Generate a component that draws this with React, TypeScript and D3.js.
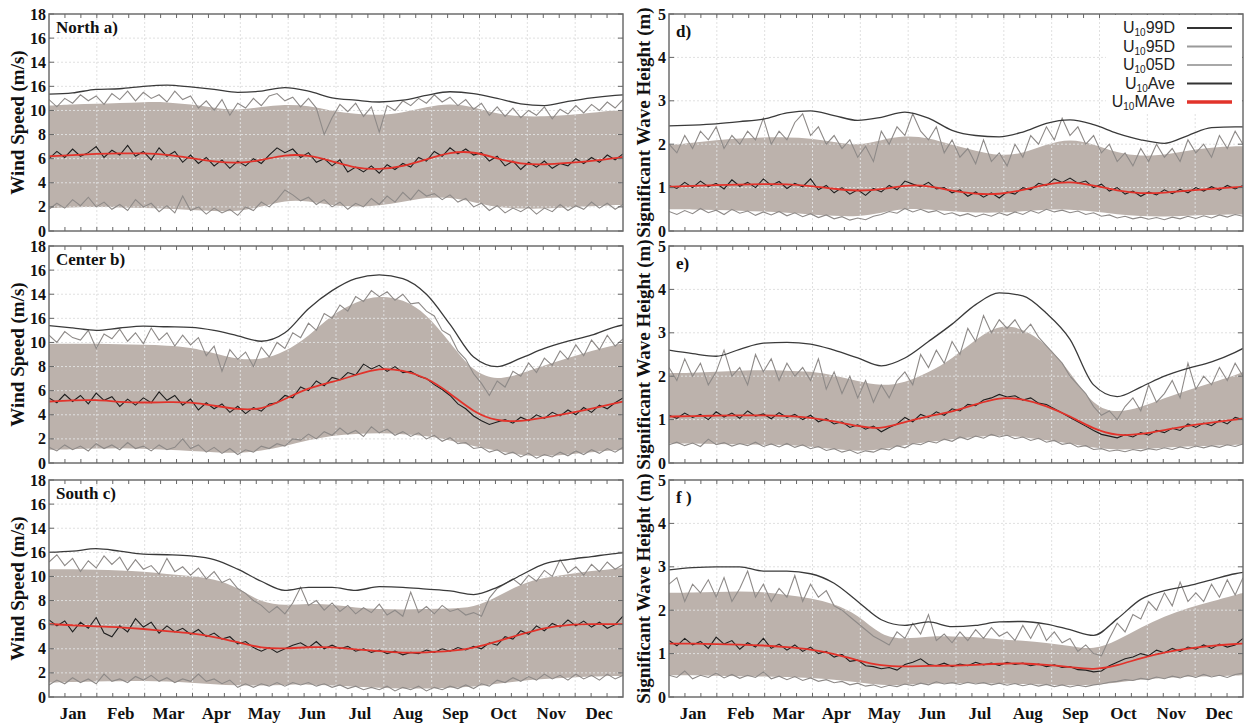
import React from 'react';
import * as d3 from 'd3';

const svgWidth = 1247;
const svgHeight = 723;

const months = ['Jan', 'Feb', 'Mar', 'Apr', 'May', 'Jun', 'Jul', 'Aug', 'Sep', 'Oct', 'Nov', 'Dec'];

// daily-ish series sampled every 5 days, smooth ones every 15 days
const noisyDays = d3.range(0, 366, 5);
const smoothDays = [...d3.range(0, 361, 15), 365];

const windTicks = [0, 2, 4, 6, 8, 10, 12, 14, 16, 18];
const windTickLabels = ['0', '2', '4', '6', '8', '10', '16', '14', '16', '18'];
const waveTicks = [0, 1, 2, 3, 4, 5];
const waveTickLabels = ['0', '1', '2', '3', '4', '5'];

// ---- North, wind (a)
const northWind99 = [11.35, 11.45, 11.75, 11.8, 12.0, 12.1, 11.95, 11.75, 11.5, 11.6, 11.9, 11.6, 11.05, 10.85, 10.7, 10.85, 11.25, 11.55, 11.4, 11.0, 10.55, 10.4, 10.75, 11.05, 11.25, 11.3];
const northWindHi = [10.4, 10.5, 10.55, 10.6, 10.7, 10.7, 10.5, 10.2, 10.0, 10.3, 10.5, 10.4, 9.95, 9.7, 9.6, 9.8, 10.3, 10.6, 10.3, 9.7, 9.5, 9.5, 9.6, 9.8, 10.0, 10.0];
const northWindLo = [1.9, 1.95, 2.0, 1.95, 1.9, 1.85, 1.75, 1.65, 1.6, 2.0, 2.55, 2.5, 2.1, 2.0, 2.1, 2.4, 2.8, 2.8, 2.4, 1.95, 1.85, 1.85, 1.95, 2.05, 2.15, 2.15];
const northWindMAve = [6.2, 6.3, 6.4, 6.45, 6.45, 6.35, 6.05, 5.75, 5.6, 5.85, 6.35, 6.3, 5.8, 5.2, 5.1, 5.35, 5.95, 6.55, 6.6, 6.0, 5.55, 5.5, 5.65, 5.8, 6.05, 6.15];
const northWind95 = [
  10.9, 10.3, 11.0, 10.6, 11.3, 10.8, 11.2, 10.5, 11.4, 10.9,
  11.6, 10.8, 11.5, 11.0, 11.3, 10.7, 11.6, 10.9, 11.2, 10.2,
  10.8, 10.0, 10.9, 9.6, 10.6, 10.2, 11.0, 10.4, 11.2, 11.4,
  10.8, 11.1, 10.3, 11.0, 10.2, 8.0, 9.4, 10.5, 9.9, 10.6,
  9.5, 10.3, 8.2, 10.4, 10.0, 10.8, 10.4, 11.0, 10.6, 11.3,
  10.7, 11.1, 10.4, 10.9, 10.1, 10.6, 9.6, 10.3, 9.5, 10.2,
  9.4, 10.0, 9.6, 10.3, 9.3, 10.1, 9.7, 10.4, 9.8, 10.5,
  10.0, 10.7, 10.2, 10.9,
];
const northWind05 = [
  1.8, 2.3, 1.9, 2.6, 2.1, 2.8, 2.0, 2.4, 1.8, 2.2,
  1.7, 2.6, 2.0, 2.3, 1.6, 2.1, 1.5, 2.9, 1.7, 2.0,
  1.4, 1.9, 1.5, 1.8, 1.3, 2.0, 1.7, 2.4, 2.0, 2.6,
  3.4, 3.0, 2.5, 2.8, 2.2, 2.6, 2.0, 2.4, 1.8, 2.3,
  2.0, 2.7, 2.2, 2.9, 2.4, 3.2, 2.6, 3.4, 2.9, 3.1,
  2.6, 3.0, 2.4, 2.7, 2.0, 2.3, 1.7, 2.1, 1.5, 1.9,
  1.6, 2.0, 1.4, 1.9, 1.6, 2.2, 1.7, 2.1, 1.8, 2.4,
  1.9, 2.3, 1.8, 2.2,
];
const northWindAve = [
  6.0, 6.6, 6.1, 6.8, 6.2, 6.5, 7.0, 6.1, 6.7, 6.3,
  7.1, 6.2, 6.6, 5.9, 6.9, 6.2, 6.6, 5.7, 6.3, 5.6,
  6.1, 5.4, 5.9, 5.2, 5.8, 5.4, 6.0, 5.6, 6.3, 6.9,
  6.5, 6.8, 6.1, 6.5, 5.7, 6.0, 5.4, 5.9, 4.9, 5.3,
  4.9, 5.4, 4.8, 5.5, 5.1, 5.6, 5.3, 6.1, 5.8, 6.6,
  6.2, 6.9, 6.4, 6.8, 6.3, 6.5, 5.8, 6.2, 5.4, 5.8,
  5.1, 5.7, 5.3, 5.8, 5.2, 5.6, 5.4, 6.0, 5.6, 6.1,
  5.7, 6.3, 5.9, 6.4,
];

// ---- Center, wind (b)
const centerWind99 = [11.4, 11.2, 11.0, 11.2, 11.35, 11.3, 11.25, 11.0, 10.55, 10.1, 10.8, 12.8, 14.3, 15.3, 15.6, 15.3, 14.0, 11.5, 8.8, 8.0, 8.7, 9.5, 10.1, 10.6, 11.3, 11.45];
const centerWindHi = [9.9, 9.9, 9.9, 9.85, 9.8, 9.75, 9.6, 9.1, 8.6, 8.55, 9.2, 10.5, 12.3, 13.4, 13.9, 13.6, 12.4, 10.0, 7.5, 6.85, 7.4, 8.1, 8.7, 9.3, 9.8, 9.9];
const centerWindLo = [1.1, 1.15, 1.2, 1.25, 1.2, 1.1, 1.0, 0.9, 0.8, 1.0, 1.4, 1.9, 2.3, 2.4, 2.5, 2.4, 2.25, 1.9, 1.4, 1.0, 0.65, 0.55, 0.7, 0.9, 1.05, 1.1];
const centerWindMAve = [5.1, 5.2, 5.25, 5.05, 5.0, 5.05, 5.05, 4.75, 4.45, 4.4, 5.3, 6.25, 6.7, 7.3, 7.9, 7.7, 7.1, 5.8, 4.2, 3.45, 3.45, 3.75, 4.1, 4.5, 4.95, 5.1];
const centerWind95 = [
  10.6, 10.0, 10.9, 10.4, 10.2, 11.0, 9.5, 10.7, 10.3, 11.1,
  10.1, 10.8, 9.9, 11.2, 10.2, 10.8, 9.7, 10.6, 9.8, 10.4,
  8.9, 9.7, 7.6, 9.4, 8.6, 9.2, 8.0, 9.6, 8.8, 10.0,
  9.5, 10.8, 10.4, 11.6, 11.0, 12.4, 12.0, 13.1, 12.6, 13.8,
  13.4, 14.3, 13.8, 14.2, 13.5, 14.0, 13.2, 13.3, 12.6, 12.2,
  11.0, 10.6, 9.3, 8.6, 7.4, 6.6, 5.6, 6.8, 6.3, 7.6,
  7.2, 8.3, 7.5, 8.7, 8.1, 9.3, 8.6, 9.8, 8.9, 10.2,
  9.4, 10.6, 9.7, 10.3,
];
const centerWind05 = [
  1.3, 1.0, 1.5, 1.1, 1.4, 1.0, 1.6, 1.2, 1.5, 1.1,
  1.7, 1.2, 1.4, 1.0, 1.5, 1.1, 1.3, 2.0, 1.2, 1.5,
  0.9, 1.3, 0.8, 1.2, 0.7, 1.1, 0.9, 1.4, 1.2, 1.6,
  1.4, 2.0, 1.9, 2.4, 2.0, 2.6, 2.3, 2.9, 2.4, 2.7,
  2.2, 3.0, 2.5, 2.8, 2.3, 2.6, 2.2, 2.5, 2.0, 2.3,
  1.8, 2.1, 1.6, 1.7, 1.2, 1.3, 0.9, 1.1, 0.7, 0.9,
  0.5, 0.8, 0.4, 0.7, 0.5, 0.9, 0.6, 1.0, 0.7, 1.1,
  0.8, 1.2, 0.9, 1.3,
];
const centerWindAve = [
  5.4, 5.0, 5.7, 5.1, 5.6, 4.9, 5.8, 5.2, 5.5, 4.7,
  5.3, 4.8, 5.4, 5.0, 5.9, 5.2, 5.6, 4.8, 5.3, 4.4,
  5.0, 4.5, 4.9, 4.2, 4.7, 4.1, 4.6, 4.3, 4.9, 5.0,
  5.6, 5.4, 6.3, 6.0, 6.8, 6.4, 7.1, 6.9, 7.5, 7.3,
  8.2, 7.8, 8.1, 7.6, 8.0, 7.5, 7.6, 7.2, 7.0, 6.5,
  6.1, 5.6, 4.9, 4.5, 3.9, 3.5, 3.2, 3.4, 3.6, 3.3,
  3.8, 3.5, 4.0, 3.7, 4.2, 3.9, 4.4, 4.0, 4.6, 4.2,
  4.8, 4.5, 5.0, 5.4,
];

// ---- South, wind (c)
const southWind99 = [12.0, 12.1, 12.3, 12.1, 11.85, 11.8, 11.7, 11.4, 10.6, 9.6, 8.85, 9.1, 9.1, 8.85, 9.15, 9.1, 8.95, 8.8, 8.5, 9.1, 10.1, 11.05, 11.4, 11.65, 11.9, 11.95];
const southWindHi = [10.6, 10.6, 10.55, 10.5, 10.4, 10.2, 10.05, 9.8, 9.1, 7.8, 7.6, 7.75, 7.7, 7.4, 7.3, 7.25, 7.3, 7.35, 7.4, 8.3, 9.4, 9.9, 10.2, 10.45, 10.65, 10.7];
const southWindLo = [1.2, 1.25, 1.3, 1.3, 1.35, 1.3, 1.2, 1.05, 0.95, 0.95, 1.0, 1.05, 0.95, 0.85, 0.75, 0.7, 0.7, 0.75, 0.85, 1.1, 1.35, 1.5, 1.6, 1.7, 1.75, 1.75];
const southWindMAve = [6.05, 5.95, 5.85, 5.8, 5.65, 5.45, 5.3, 5.0, 4.55, 4.05, 4.0, 4.15, 4.15, 3.95, 3.8, 3.65, 3.7, 3.8, 4.05, 4.6, 5.2, 5.75, 6.0, 6.05, 6.05, 6.05];
const southWind95 = [
  11.2, 11.8, 10.9, 11.5, 10.4, 11.3, 10.7, 11.7, 11.0, 11.6,
  10.5, 11.4, 10.6, 10.9, 10.2, 11.5, 10.4, 10.8, 10.1, 10.7,
  9.8, 10.4, 9.5, 9.8, 9.0, 8.6, 8.0, 7.6, 7.0, 7.5,
  6.9, 7.8, 9.1, 7.6, 8.0, 7.2, 7.8, 7.1, 7.6, 6.9,
  7.4, 7.0, 7.7, 6.8, 7.2, 6.7, 8.7, 7.0, 7.5, 6.9,
  7.6, 7.1, 7.3, 6.8, 7.0, 6.7, 8.2, 9.0, 9.4, 9.8,
  9.3, 10.1, 9.6, 10.5, 10.0, 11.4, 10.3, 10.8, 10.1, 11.0,
  10.4, 11.2, 10.6, 11.0,
];
const southWind05 = [
  1.0, 1.4, 1.1, 1.6, 1.2, 1.5, 1.1, 1.9, 1.3, 1.5,
  1.2, 1.7, 1.4, 1.8, 1.3, 1.6, 1.2, 1.5, 1.3, 1.9,
  1.3, 1.5, 1.1, 1.4, 0.8, 1.1, 0.8, 1.1, 0.9, 1.2,
  0.9, 1.2, 1.0, 1.2, 0.9, 1.1, 0.8, 1.0, 0.7, 0.9,
  0.6, 0.8, 0.6, 0.9, 0.5, 0.8, 0.6, 0.9, 0.5, 0.8,
  0.6, 0.9, 0.7, 1.0, 0.7, 1.1, 0.9, 1.4, 1.2, 1.6,
  1.3, 1.7, 1.4, 1.9, 1.5, 1.8, 1.4, 1.9, 1.5, 1.8,
  1.4, 1.9, 1.5, 1.8,
];
const southWindAve = [
  6.4, 5.9, 6.3, 5.4, 6.2, 5.7, 6.6, 5.3, 5.0, 5.9,
  5.4, 6.5, 5.8, 6.2, 5.3, 5.9, 5.4, 5.7, 5.2, 5.6,
  5.0, 5.3, 4.8, 5.0, 4.4, 4.6, 4.1, 3.8, 4.1, 3.7,
  4.0, 4.3, 4.5, 4.1, 4.6, 4.0, 4.3, 4.0, 4.2, 3.8,
  4.0, 3.7, 3.9, 3.6, 3.8, 3.5, 3.7, 3.6, 3.9, 3.7,
  4.0, 3.8, 4.1, 3.9, 4.2, 4.0, 4.5, 4.3, 5.0, 4.8,
  5.5, 5.2, 5.9, 5.5, 6.1, 5.8, 6.4, 5.9, 6.3, 5.8,
  6.2, 5.7, 6.0, 6.7,
];

// ---- North, waves (d)
const northWave99 = [2.42, 2.44, 2.47, 2.52, 2.58, 2.72, 2.77, 2.66, 2.55, 2.62, 2.74, 2.6, 2.32, 2.2, 2.17, 2.28, 2.48, 2.56, 2.45, 2.25, 2.1, 2.02, 2.2, 2.38, 2.4, 2.4];
const northWaveHi = [1.98, 2.03, 2.1, 2.13, 2.16, 2.16, 2.14, 2.05, 1.96, 2.1, 2.2, 2.15, 1.98, 1.85, 1.73, 1.78, 2.0, 2.13, 2.0, 1.8, 1.72, 1.75, 1.85, 1.93, 1.95, 1.95];
const northWaveLo = [0.5, 0.5, 0.48, 0.47, 0.45, 0.42, 0.38, 0.35, 0.33, 0.42, 0.52, 0.5, 0.45, 0.42, 0.42, 0.45, 0.5, 0.5, 0.45, 0.38, 0.34, 0.33, 0.35, 0.37, 0.38, 0.38];
const northWaveMAve = [1.02, 1.04, 1.06, 1.07, 1.08, 1.08, 1.04, 0.97, 0.92, 0.95, 1.06, 1.05, 0.92, 0.85, 0.84, 0.94, 1.08, 1.15, 1.05, 0.93, 0.86, 0.88, 0.93, 0.97, 1.01, 1.02];
const northWave95 = [
  2.0, 1.8, 2.2, 1.9, 2.3, 2.1, 2.4, 1.9, 2.2, 2.0,
  2.3, 2.1, 2.6, 2.0, 2.3, 2.1, 2.5, 2.7, 2.2, 2.4,
  2.0, 2.2, 1.9, 2.1, 1.7, 1.95, 1.6, 2.3, 2.0, 2.4,
  2.2, 2.7, 2.3, 2.1, 2.4, 1.8, 2.1, 1.7, 1.9, 1.55,
  2.1, 1.6, 1.8, 1.5, 2.0, 1.7, 2.2, 2.0, 2.4, 2.1,
  2.6, 2.2, 2.4, 2.0, 2.2, 1.8, 2.0, 1.6, 1.8, 1.5,
  1.9, 1.6, 2.0, 1.7, 1.9, 1.6, 2.1, 1.8, 2.0, 1.7,
  2.2, 1.9, 2.3, 2.0,
];
const northWave05 = [
  0.45, 0.38, 0.47, 0.40, 0.52, 0.42, 0.48, 0.38, 0.50, 0.41,
  0.46, 0.36, 0.44, 0.37, 0.45, 0.35, 0.42, 0.33, 0.40, 0.31,
  0.37, 0.28, 0.33, 0.25, 0.30, 0.26, 0.34, 0.38, 0.45, 0.41,
  0.52, 0.44, 0.50, 0.43, 0.47, 0.38, 0.42, 0.35, 0.40, 0.33,
  0.39, 0.34, 0.42, 0.36, 0.44, 0.38, 0.47, 0.41, 0.50, 0.44,
  0.48, 0.42, 0.46, 0.38, 0.42, 0.34, 0.37, 0.30, 0.34, 0.28,
  0.32, 0.27, 0.31, 0.26, 0.32, 0.28, 0.34, 0.29, 0.35, 0.30,
  0.37, 0.32, 0.38, 0.34,
];
const northWaveAve = [
  1.05, 0.98, 1.12, 1.0, 1.15, 1.02, 1.1, 0.97, 1.18, 1.03,
  1.12, 1.0, 1.2, 1.05, 1.14, 0.98, 1.1, 1.02, 1.2, 0.95,
  1.05, 0.88, 1.0, 0.85, 0.95, 0.82, 0.98, 0.9, 1.05, 0.95,
  1.15, 1.08, 1.02, 1.12, 0.97, 1.0, 0.88, 0.95, 0.8, 0.9,
  0.78, 0.88, 0.76, 0.9, 0.85, 1.0, 0.95, 1.1, 1.05, 1.2,
  1.12, 1.22, 1.1, 1.15, 1.0, 1.08, 0.92, 1.0, 0.85, 0.92,
  0.8, 0.9, 0.83, 0.95, 0.86, 0.96, 0.88, 1.0, 0.92, 1.02,
  0.94, 1.05, 0.97, 1.05,
];

// ---- Center, waves (e)
const centerWave99 = [2.6, 2.52, 2.46, 2.62, 2.76, 2.78, 2.74, 2.6, 2.42, 2.24, 2.42, 2.8, 3.2, 3.65, 3.92, 3.85, 3.45, 2.85, 1.8, 1.53, 1.75, 2.0, 2.18, 2.33, 2.55, 2.64];
const centerWaveHi = [2.07, 2.08, 2.1, 2.13, 2.14, 2.13, 2.11, 2.03, 1.88, 1.77, 1.85, 2.08, 2.4, 2.85, 3.2, 3.1, 2.75, 2.1, 1.3, 1.15, 1.28, 1.5, 1.68, 1.85, 2.02, 2.1];
const centerWaveLo = [0.45, 0.45, 0.44, 0.43, 0.42, 0.42, 0.38, 0.32, 0.27, 0.3, 0.42, 0.48, 0.55, 0.6, 0.64, 0.6, 0.52, 0.45, 0.35, 0.3, 0.32, 0.35, 0.38, 0.4, 0.42, 0.42];
const centerWaveMAve = [1.07, 1.08, 1.09, 1.1, 1.1, 1.08, 1.05, 0.96, 0.85, 0.77, 0.95, 1.08, 1.18, 1.35, 1.52, 1.48, 1.32, 1.08, 0.78, 0.62, 0.66, 0.76, 0.86, 0.93, 1.0, 1.03];
const centerWave95 = [
  2.2, 1.9, 2.4, 2.0, 2.3, 1.8, 2.1, 2.6, 2.0, 2.2,
  1.8, 2.5, 2.1, 2.4, 1.9, 2.3, 2.0, 2.2, 1.9, 2.4,
  1.7, 2.1, 1.6, 2.0, 1.5, 1.9, 1.4, 1.8, 1.5, 1.9,
  2.1, 1.8, 2.5, 2.2, 2.6, 2.3, 2.8, 2.5, 3.1, 2.8,
  3.4, 3.0, 3.3, 3.1, 3.3, 3.0, 3.2, 2.9, 2.7, 2.5,
  2.3, 2.0, 1.8, 1.6, 1.3, 1.1, 1.2, 1.0, 1.3, 1.5,
  1.2, 1.8, 1.4, 1.6, 1.9, 1.5, 2.3, 1.7, 2.0, 1.8,
  2.2, 1.9, 2.3, 2.0,
];
const centerWave05 = [
  0.42, 0.48, 0.40, 0.46, 0.38, 0.55, 0.42, 0.47, 0.39, 0.45,
  0.40, 0.48, 0.38, 0.44, 0.37, 0.45, 0.36, 0.42, 0.33, 0.38,
  0.29, 0.33, 0.25, 0.30, 0.22, 0.28, 0.25, 0.33, 0.30, 0.40,
  0.35, 0.45, 0.42, 0.50, 0.46, 0.55, 0.50, 0.60, 0.54, 0.62,
  0.57, 0.66, 0.60, 0.64, 0.56, 0.60, 0.52, 0.57, 0.48, 0.52,
  0.43, 0.46, 0.37, 0.40, 0.31, 0.33, 0.27, 0.30, 0.26, 0.31,
  0.28, 0.33, 0.30, 0.35, 0.31, 0.37, 0.33, 0.39, 0.35, 0.40,
  0.36, 0.42, 0.38, 0.44,
];
const centerWaveAve = [
  1.1, 1.03, 1.15, 1.05, 1.12, 1.0, 1.18, 1.06, 1.15, 1.03,
  1.2, 1.08, 1.13, 1.02, 1.16, 1.05, 1.12, 1.0, 1.1, 0.95,
  1.02, 0.9, 0.95, 0.82, 0.88, 0.78, 0.85, 0.72, 0.82, 0.9,
  1.05, 0.95, 1.12, 1.05, 1.18, 1.1, 1.25, 1.2, 1.35, 1.32,
  1.45, 1.5, 1.58, 1.52, 1.55, 1.45, 1.5, 1.38, 1.35, 1.25,
  1.15, 1.05, 0.95, 0.85, 0.75, 0.66, 0.62, 0.58, 0.65, 0.6,
  0.7, 0.64, 0.75, 0.7, 0.8, 0.75, 0.9, 0.82, 0.92, 0.86,
  0.98, 0.9, 1.05, 1.0,
];

// ---- South, waves (f)
const southWave99 = [2.93, 2.98, 3.0, 3.0, 2.9, 2.9, 2.84, 2.62, 2.2, 1.78, 1.65, 1.73, 1.62, 1.65, 1.73, 1.74, 1.68, 1.55, 1.42, 1.8, 2.25, 2.45, 2.56, 2.7, 2.84, 2.87];
const southWaveHi = [2.4, 2.41, 2.42, 2.44, 2.42, 2.35, 2.28, 2.15, 1.9, 1.4, 1.33, 1.4, 1.4, 1.38, 1.33, 1.3, 1.25, 1.18, 1.08, 1.3, 1.6, 1.86, 2.05, 2.2, 2.35, 2.4];
const southWaveLo = [0.5, 0.5, 0.49, 0.48, 0.47, 0.46, 0.44, 0.4, 0.34, 0.27, 0.28, 0.31, 0.32, 0.32, 0.31, 0.3, 0.28, 0.27, 0.27, 0.33, 0.4, 0.44, 0.47, 0.48, 0.49, 0.5];
const southWaveMAve = [1.23, 1.23, 1.22, 1.21, 1.19, 1.15, 1.1, 1.0, 0.84, 0.72, 0.7, 0.72, 0.72, 0.74, 0.77, 0.78, 0.74, 0.69, 0.62, 0.72, 0.9, 1.03, 1.12, 1.18, 1.22, 1.23];
const southWave95 = [
  2.6, 2.75, 2.2, 2.6, 2.4, 2.7, 2.3, 2.75, 2.2, 2.5,
  2.9, 2.3, 2.6, 2.2, 2.5, 2.3, 2.8, 2.2, 2.6, 2.3,
  2.45, 2.1, 2.0, 1.85, 1.7, 1.55, 1.4, 1.3, 1.2, 1.5,
  1.35, 1.7, 1.45, 1.9, 1.3, 1.45, 1.25, 1.5, 1.3, 1.55,
  1.35, 1.6, 1.4, 1.5, 1.3, 1.65, 1.35, 1.7, 1.3, 1.5,
  1.25, 1.35, 1.05, 1.2, 1.0, 0.95, 1.35, 1.7, 1.5, 1.9,
  1.8, 2.2, 2.0, 2.4, 2.1, 2.65, 2.2, 2.4, 2.2, 2.6,
  2.3, 2.7, 2.35, 2.75,
];
const southWave05 = [
  0.5, 0.45, 0.6, 0.42, 0.5, 0.45, 0.55, 0.44, 0.52, 0.43,
  0.5, 0.45, 0.58, 0.42, 0.48, 0.4, 0.47, 0.38, 0.44, 0.36,
  0.4, 0.33, 0.36, 0.28, 0.32, 0.25, 0.28, 0.22, 0.27, 0.24,
  0.3, 0.26, 0.32, 0.28, 0.35, 0.3, 0.33, 0.29, 0.34, 0.3,
  0.33, 0.28, 0.32, 0.27, 0.31, 0.26, 0.3, 0.25, 0.29, 0.24,
  0.28, 0.23, 0.27, 0.24, 0.28, 0.3, 0.34, 0.36, 0.4, 0.38,
  0.43, 0.4, 0.46, 0.42, 0.48, 0.44, 0.5, 0.45, 0.52, 0.46,
  0.5, 0.45, 0.52, 0.55,
];
const southWaveAve = [
  1.3, 1.18, 1.35, 1.2, 1.28, 1.12, 1.38, 1.22, 1.3, 1.1,
  1.25, 1.15, 1.35, 1.12, 1.22, 1.08, 1.2, 1.05, 1.15, 1.0,
  1.05, 0.92, 0.98, 0.82, 0.85, 0.72, 0.7, 0.65, 0.68, 0.62,
  0.75, 0.8, 0.88, 0.75, 0.72, 0.78, 0.7, 0.76, 0.72, 0.8,
  0.74, 0.78, 0.73, 0.8, 0.75, 0.78, 0.72, 0.76, 0.7, 0.74,
  0.68, 0.7, 0.63, 0.62, 0.58, 0.6, 0.72, 0.8, 0.88, 0.92,
  1.0, 0.95, 1.08, 1.02, 1.12, 1.05, 1.15, 1.1, 1.2, 1.12,
  1.22, 1.15, 1.2, 1.35,
];

const legendItems = [
  { name: '99D', color: '#333333', width: 2 },
  { name: '95D', color: '#9a9a9a', width: 2 },
  { name: '05D', color: '#a8a8a8', width: 2 },
  { name: 'Ave', color: '#333333', width: 2 },
  { name: 'MAve', color: '#e2332b', width: 3.5 },
];

const plotWidth = 574;
const plotHeight = 217;
const serif = '"Times New Roman", "Liberation Serif", serif';
const bandColor = '#bcb2ac';
const gridColor = '#e0e0e0';

function Panel({ id, left, top, yMax, ticks, tickLabels, s, title, titleDy, yTitle, yTitleX, showMonths, showLegend }) {
  const x = d3.scaleLinear().domain([0, 365]).range([left, left + plotWidth]);
  const y = d3.scaleLinear().domain([0, yMax]).range([top + plotHeight, top]);
  const monthScale = d3.scaleBand().domain(months).range([left, left + plotWidth]);
  const minor = d3.scaleLinear().domain([0, 36]).range([left, left + plotWidth]);

  const band = d3.area()
    .x((d, i) => x(smoothDays[i]))
    .y0((d, i) => y(s.lo[i]))
    .y1((d) => y(d))
    .curve(d3.curveBasis);
  const noisy = d3.line().x((d, i) => x(noisyDays[i])).y((d) => y(d));
  const smooth = d3.line().x((d, i) => x(smoothDays[i])).y((d) => y(d)).curve(d3.curveBasis);
  const upper = d3.line().x((d, i) => x(smoothDays[i])).y((d) => y(d)).curve(d3.curveMonotoneX);

  const bottom = top + plotHeight;
  const right = left + plotWidth;

  return (
    <g>
      <clipPath id={id}>
        <rect x={left} y={top} width={plotWidth} height={plotHeight} />
      </clipPath>
      <g clipPath={`url(#${id})`}>
        <path d={band(s.hi)} fill={bandColor} />
        {months.slice(1).map((m) => (
          <line key={m} x1={monthScale(m)} x2={monthScale(m)} y1={top} y2={bottom}
            stroke={gridColor} strokeDasharray="2,2" strokeWidth={1} />
        ))}
        {ticks.slice(1, -1).map((t) => (
          <line key={t} x1={left} x2={right} y1={y(t)} y2={y(t)}
            stroke={gridColor} strokeDasharray="2,2" strokeWidth={1} />
        ))}
        <path d={noisy(s.p05)} fill="none" stroke="#8e8a88" strokeWidth={1.1} />
        <path d={noisy(s.p95)} fill="none" stroke="#8e8a88" strokeWidth={1.1} />
        <path d={upper(s.p99)} fill="none" stroke="#3a3a3a" strokeWidth={1.3} />
        <path d={noisy(s.ave)} fill="none" stroke="#1e1e1e" strokeWidth={1.1} />
        <path d={smooth(s.mave)} fill="none" stroke="#e2332b" strokeWidth={1.8} />
      </g>

      <rect x={left} y={top} width={plotWidth} height={plotHeight} fill="none" stroke="#6e6e6e" strokeWidth={1.5} />

      {d3.range(1, 36).map((k) => (
        <g key={k}>
          <line x1={minor(k)} x2={minor(k)} y1={top} y2={top + 4} stroke="#666" />
          <line x1={minor(k)} x2={minor(k)} y1={bottom} y2={bottom - 4} stroke="#666" />
        </g>
      ))}
      {ticks.map((t, i) => (
        <g key={t}>
          <line x1={left} x2={left + 5} y1={y(t)} y2={y(t)} stroke="#666" />
          <line x1={right} x2={right - 5} y1={y(t)} y2={y(t)} stroke="#666" />
          <text x={left - 3} y={y(t)} dy="0.35em" textAnchor="end" fontFamily={serif}
            fontWeight="bold" fontSize={16} fill="#111">{tickLabels[i]}</text>
        </g>
      ))}

      <text x={left + 7} y={top + titleDy} fontFamily={serif} fontWeight="bold" fontSize={17} fill="#111">{title}</text>

      <text transform={`translate(${yTitleX},${top + plotHeight / 2}) rotate(-90)`} textAnchor="middle"
        fontFamily={serif} fontWeight="bold" fontSize={19} fill="#111">{yTitle}</text>

      {showMonths && months.map((m) => (
        <text key={m} x={monthScale(m) + monthScale.bandwidth() / 2} y={719} textAnchor="middle"
          fontFamily={serif} fontWeight="bold" fontSize={17} fill="#111">{m}</text>
      ))}

      {showLegend && (
        <g>
          <rect x={right - 137} y={top + 1} width={136} height={99} fill="#fff" />
          {legendItems.map((item, i) => {
            const ly = top + 14 + i * 18.5;
            return (
              <g key={item.name}>
                <text x={right - 68} y={ly + 5} textAnchor="end" fontFamily='"Liberation Sans", Arial, sans-serif'
                  fontSize={16} fill="#222">
                  <tspan>U</tspan>
                  <tspan dy={3} fontSize={10}>10</tspan>
                  <tspan dy={-3}>{item.name}</tspan>
                </text>
                <line x1={right - 56} x2={right - 11} y1={ly} y2={ly} stroke={item.color} strokeWidth={item.width} />
              </g>
            );
          })}
        </g>
      )}
    </g>
  );
}

const leftX = 49;
const rightX = 669;
const rowTops = [14, 246, 480];

export default function App() {
  const windPanels = [
    { title: 'North a)', s: { p99: northWind99, hi: northWindHi, lo: northWindLo, mave: northWindMAve, p95: northWind95, p05: northWind05, ave: northWindAve } },
    { title: 'Center b)', s: { p99: centerWind99, hi: centerWindHi, lo: centerWindLo, mave: centerWindMAve, p95: centerWind95, p05: centerWind05, ave: centerWindAve } },
    { title: 'South c)', s: { p99: southWind99, hi: southWindHi, lo: southWindLo, mave: southWindMAve, p95: southWind95, p05: southWind05, ave: southWindAve } },
  ];
  const wavePanels = [
    { title: 'd)', s: { p99: northWave99, hi: northWaveHi, lo: northWaveLo, mave: northWaveMAve, p95: northWave95, p05: northWave05, ave: northWaveAve } },
    { title: 'e)', s: { p99: centerWave99, hi: centerWaveHi, lo: centerWaveLo, mave: centerWaveMAve, p95: centerWave95, p05: centerWave05, ave: centerWaveAve } },
    { title: 'f )', s: { p99: southWave99, hi: southWaveHi, lo: southWaveLo, mave: southWaveMAve, p95: southWave95, p05: southWave05, ave: southWaveAve } },
  ];

  return (
    <svg width={svgWidth} height={svgHeight} style={{ position: 'absolute', left: 0, top: 0, background: '#fff' }}>
      {windPanels.map((p, i) => (
        <Panel key={p.title} id={`clip-w${i}`} left={leftX} top={rowTops[i]} yMax={18}
          ticks={windTicks} tickLabels={windTickLabels} s={p.s} title={p.title} titleDy={18.5}
          yTitle="Wind Speed (m/s)" yTitleX={24} showMonths={i === 2} showLegend={false} />
      ))}
      {wavePanels.map((p, i) => (
        <Panel key={p.title} id={`clip-h${i}`} left={rightX} top={rowTops[i]} yMax={5}
          ticks={waveTicks} tickLabels={waveTickLabels} s={p.s} title={p.title} titleDy={23}
          yTitle="Significant Wave Height (m)" yTitleX={650} showMonths={i === 2} showLegend={i === 0} />
      ))}
    </svg>
  );
}
